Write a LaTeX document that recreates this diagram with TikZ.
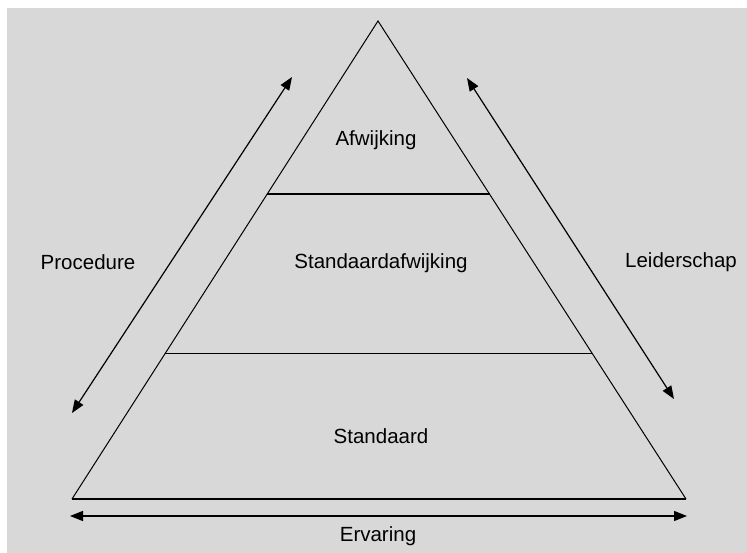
\documentclass[tikz,border=0pt]{standalone}
\usepackage{fontspec}
\setmainfont{Liberation Sans}
\usetikzlibrary{arrows.meta}
\usetikzlibrary{calc}
\definecolor{bggray}{RGB}{216,216,216}

\begin{document}
\begin{tikzpicture}[
    x=1pt, y=-1pt,
    side line/.style={line width=1pt, line join=miter},
    layer line/.style={line width=1.4pt},
    double arrow/.style={{Triangle[length=13pt,width=10pt]}-{Triangle[length=13pt,width=10pt]}, line width=1.2pt},
    every node/.style={color=black, font=\fontsize{20.5}{24}\selectfont}
    ]

    % background
    \useasboundingbox (0,0) rectangle (747,553);
    \fill[white] (0,0) rectangle (747,553);
    \fill[bggray] (7,8) rectangle (747,553);
    % corners of the pyramid
    \coordinate (top) at (378,21);
    \coordinate (bl) at (72,499);
    \coordinate (br) at (686,499);
    \draw[side line] (bl) -- (top) -- (br);
    \draw[layer line] (bl) -- (br);
    % layers
    \coordinate (l1) at ($(top)!0.362!(bl)$);
    \coordinate (r1) at ($(top)!0.362!(br)$);
    \coordinate (l2) at ($(top)!0.695!(bl)$);
    \coordinate (r2) at ($(top)!0.695!(br)$);
    \draw[layer line] (l1) -- (r1);
    \draw[layer line] (l2) -- (r2);
    % labels inside
    \node (afw) at (376,140) {Afwijking};
    \node (stafw) at (381,263) {Standaardafwijking};
    \node (std) at (381,436) {Standaard};
    % labels outside
    \node (proc) at (88,262) {Procedure};
    \node (leid) at (681,262) {Leiderschap};
    \node (erv) at (378,536) {Ervaring};
    % arrows
    \coordinate (procA) at (72,413);
    \coordinate (procB) at (292,77);
    \coordinate (leidA) at (467,78);
    \coordinate (leidB) at (674,399);
    \coordinate (ervA) at (70,516);
    \coordinate (ervB) at (687,516);
    \draw[double arrow] (procA) -- (procB);
    \draw[double arrow] (leidA) -- (leidB);
    \draw[double arrow] (ervA) -- (ervB);
\end{tikzpicture}
\end{document}
